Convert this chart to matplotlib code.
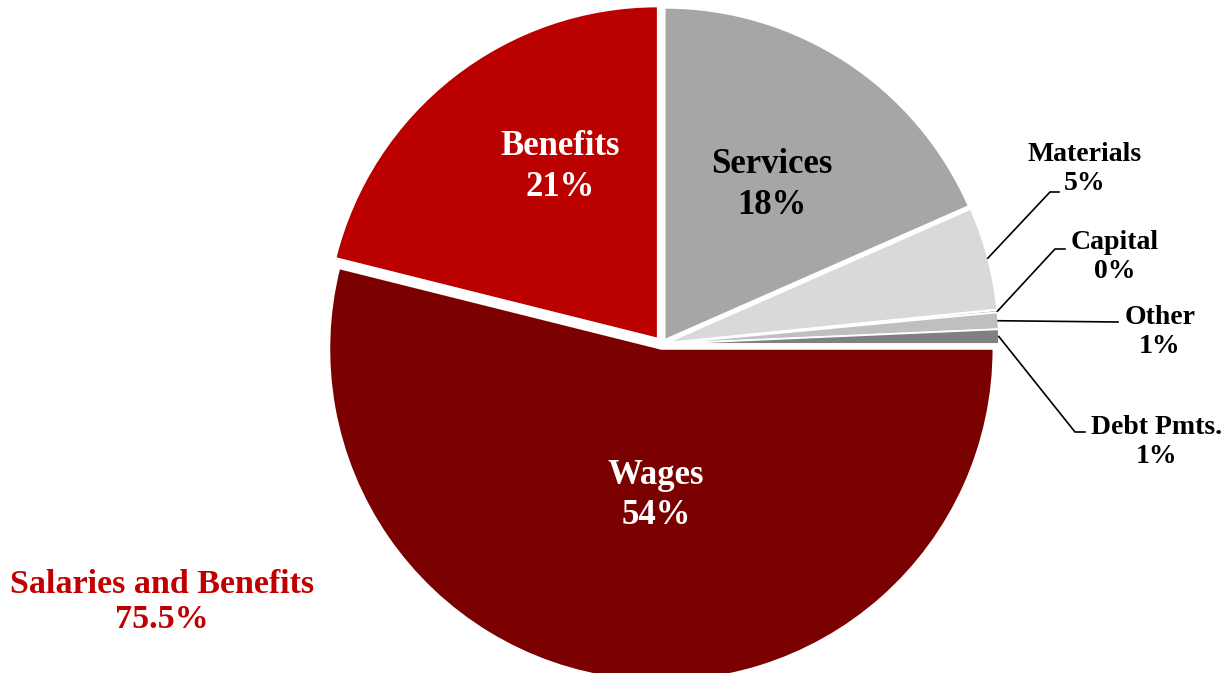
import numpy as np
import matplotlib
matplotlib.use("Agg")
import matplotlib.pyplot as plt

# data (percent of total)
categories = ["Services", "Materials", "Capital", "Other", "Debt Pmts.", "Wages", "Benefits"]
values = [18.4, 5.0, 0.1, 0.8, 0.7, 53.9, 21.1]
colors = ["#A6A6A6", "#D9D9D9", "#7F7F7F", "#BFBFBF", "#808080", "#7B0000", "#BB0000"]
salaries_label = "Salaries and Benefits"
salaries_total = 75.5

plt.rcParams['font.family'] = ['Liberation Serif', 'DejaVu Serif']
plt.rcParams['font.weight'] = 'bold'

W, H = 1229, 673
CX, CY, R = 662, 344, 332   # pie centre / radius in pixels


def px(x, y):
    # pixel position -> data coords (radius 1 == R px)
    return (x - CX) / R, (CY - y) / R


fig = plt.figure(figsize=(W / 100, H / 100), dpi=100)
ax = fig.add_axes([0, 0, 1, 1])

explode = [0.015, 0.015, 0.015, 0.015, 0.015, 0.015, 0.021]
wedges, _ = ax.pie(values, colors=colors, startangle=90, counterclock=False,
                   explode=explode, radius=1,
                   wedgeprops=dict(edgecolor="white", linewidth=1.2))
ax.set_aspect('auto')
ax.set_xlim(-CX / R, (W - CX) / R)
ax.set_ylim(-(H - CY) / R, CY / R)
ax.axis('off')

pcts = [f"{v:.0f}%" for v in values]

# labels inside big slices: (pos, colour, line spacing)
inside = {
    "Services": ((772, 185), "#000000", 1.33),
    "Wages": ((656, 496), "white", 1.28),
    "Benefits": ((560, 167), "white", 1.35),
}
for name, (pos, col, ls) in inside.items():
    i = categories.index(name)
    ax.text(*px(*pos), f"{name}\n{pcts[i]}", ha="center", va="center",
            fontsize=25, color=col, fontweight="bold", linespacing=ls)

# small slices with leader lines: (text pos, elbow points)
outside = {
    "Materials": ((1085, 169), [(1050, 192), (1059, 192)]),
    "Capital": ((1115, 257), [(1055, 249), (1065, 249)]),
    "Other": ((1160, 332), [(1118, 322)]),
    "Debt Pmts.": ((1157, 442), [(1075, 432), (1085, 432)]),
}
for name, (pos, path) in outside.items():
    i = categories.index(name)
    w = wedges[i]
    ang = np.deg2rad((w.theta1 + w.theta2) / 2)
    sx = w.center[0] + w.r * np.cos(ang)
    sy = w.center[1] + w.r * np.sin(ang)
    pts = [(sx, sy)] + [px(*p) for p in path]
    xs, ys = zip(*pts)
    ax.plot(xs, ys, color="black", lw=1.2, solid_joinstyle="miter")
    ax.text(*px(*pos), f"{name}\n{pcts[i]}", ha="center", va="center",
            fontsize=20, color="black", fontweight="bold", linespacing=1.25)

ax.text(*px(162, 602), f"{salaries_label}\n{salaries_total}%", ha="center", va="center",
        fontsize=24.5, color="#C00000", fontweight="bold", linespacing=1.13)

fig.savefig("out.png", dpi=100)
